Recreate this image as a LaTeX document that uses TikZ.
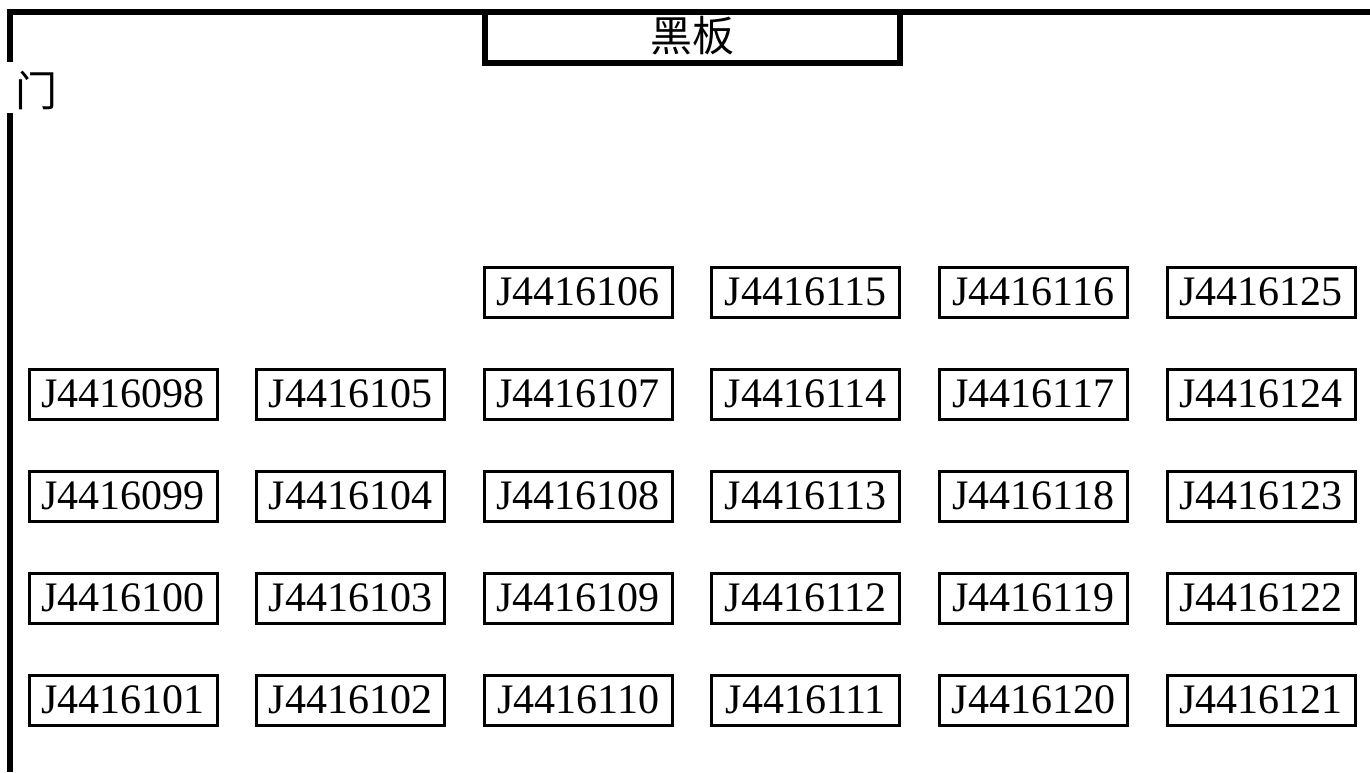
\documentclass[tikz,border=0pt]{standalone}
\usepackage{fontspec}
\setmainfont{Liberation Serif}
\newfontfamily\cjk{Noto Sans CJK SC}
\usepackage{tikz}
\usetikzlibrary{positioning}
\tikzset{
        seat/.style={draw, rectangle, line width=1.5pt, minimum width=94pt,
                     minimum height=25pt, inner sep=0pt,
                     font=\fontsize{21pt}{24pt}\selectfont},
        wall/.style={line width=3pt, line join=miter},
        cjklabel/.style={inner sep=0pt, font=\cjk\fontsize{21pt}{24pt}\selectfont},
 }
\begin{document}
\begin{tikzpicture}[node distance=24.5pt and 18.3pt]
    \useasboundingbox (0pt,0pt) rectangle (685pt,-386pt);

    % walls and door
    \draw[wall] (685pt,-6pt) -- (5pt,-6pt) -- (5pt,-31pt);
    \draw[wall] (5pt,-56.5pt) -- (5pt,-386pt);
    \node[cjklabel] (door) at (18pt,-45.5pt) {门};

    % blackboard
    \draw[wall] (242.25pt,-6pt) -- (242.25pt,-31.5pt) -- (450pt,-31.5pt) -- (450pt,-6pt);
    \node[cjklabel] (board) at (346pt,-17.75pt) {黑板};

    % row 1
    \node[seat] (a1) at (61.5pt,-197pt) {J4416098};
    \node[seat, right=of a1] (b1) {J4416105};
    \node[seat, right=of b1] (c1) {J4416107};
    \node[seat, right=of c1] (d1) {J4416114};
    \node[seat, right=of d1] (e1) {J4416117};
    \node[seat, right=of e1] (f1) {J4416124};

    % row 0
    \node[seat, above=of c1] (c0) {J4416106};
    \node[seat, right=of c0] (d0) {J4416115};
    \node[seat, right=of d0] (e0) {J4416116};
    \node[seat, right=of e0] (f0) {J4416125};

    % row 2
    \node[seat, below=of a1] (a2) {J4416099};
    \node[seat, right=of a2] (b2) {J4416104};
    \node[seat, right=of b2] (c2) {J4416108};
    \node[seat, right=of c2] (d2) {J4416113};
    \node[seat, right=of d2] (e2) {J4416118};
    \node[seat, right=of e2] (f2) {J4416123};

    % row 3
    \node[seat, below=of a2] (a3) {J4416100};
    \node[seat, right=of a3] (b3) {J4416103};
    \node[seat, right=of b3] (c3) {J4416109};
    \node[seat, right=of c3] (d3) {J4416112};
    \node[seat, right=of d3] (e3) {J4416119};
    \node[seat, right=of e3] (f3) {J4416122};

    % row 4
    \node[seat, below=of a3] (a4) {J4416101};
    \node[seat, right=of a4] (b4) {J4416102};
    \node[seat, right=of b4] (c4) {J4416110};
    \node[seat, right=of c4] (d4) {J4416111};
    \node[seat, right=of d4] (e4) {J4416120};
    \node[seat, right=of e4] (f4) {J4416121};
\end{tikzpicture}
\end{document}
